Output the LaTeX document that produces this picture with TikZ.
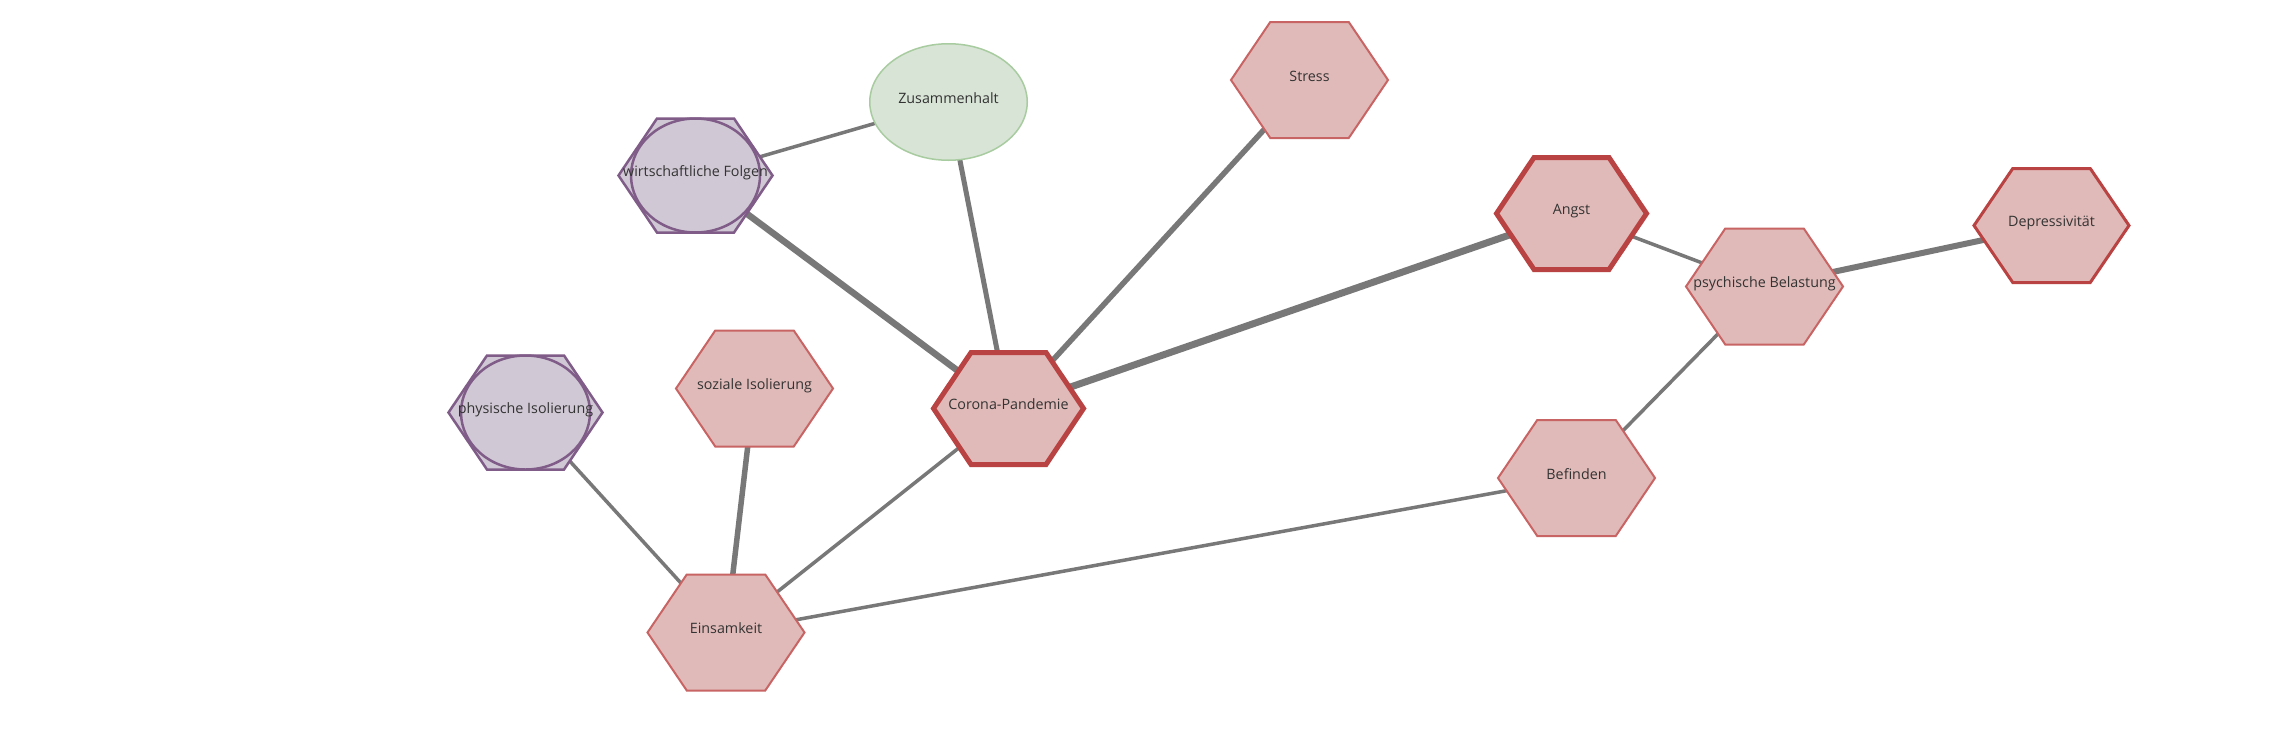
\documentclass[tikz,border=0pt]{standalone}
\usepackage{fontspec}
\setmainfont{Open Sans}
\usetikzlibrary{calc,shapes.geometric}
\pgfdeclarelayer{edgelayer}
\pgfdeclarelayer{shapelayer}
\pgfsetlayers{edgelayer,shapelayer,main}

\definecolor{redfill}{HTML}{E0BAB8}
\definecolor{redthin}{HTML}{C86464}
\definecolor{redthick}{HTML}{B94242}
\definecolor{purplefill}{HTML}{D0C8D4}
\definecolor{purpleline}{HTML}{805C88}
\definecolor{greenfill}{HTML}{D8E4D6}
\definecolor{greenline}{HTML}{A8CCA0}
\definecolor{edgegray}{HTML}{787878}
\definecolor{textgray}{HTML}{333333}

\tikzset{
  lbl/.style={rectangle, inner sep=0pt, outer sep=0pt, text=textgray,
    font=\fontsize{14.3pt}{17pt}\selectfont, text height=10pt, text depth=8pt},
  hexthin/.style={lbl, minimum width=157pt, minimum height=116pt},
  hexmed/.style={lbl, minimum width=155pt, minimum height=114pt},
  hexthick/.style={lbl, minimum width=150pt, minimum height=112pt},
  hexpurple/.style={lbl, minimum width=154pt, minimum height=114pt},
  ellgreen/.style={lbl, ellipse, minimum width=157.5pt, minimum height=116.5pt,
    fill=greenfill, draw=greenline, line width=1.5pt},
  redthinline/.style={fill=redfill, draw=redthin, line width=2pt, line join=miter},
  redmedline/.style={fill=redfill, draw=redthick, line width=3pt, line join=miter},
  redthickline/.style={fill=redfill, draw=redthick, line width=5pt, line join=miter},
  purpleshape/.style={fill=purplefill, draw=purpleline, line width=2.5pt, line join=miter},
  link/.style={draw=edgegray},
}

\newcommand{\hexshape}[2]{%
  \begin{pgfonlayer}{shapelayer}
    \path[#2] (#1.west)
      -- ($(#1.north west)!0.25!(#1.north east)$)
      -- ($(#1.north west)!0.75!(#1.north east)$)
      -- (#1.east)
      -- ($(#1.south west)!0.75!(#1.south east)$)
      -- ($(#1.south west)!0.25!(#1.south east)$)
      -- cycle;
  \end{pgfonlayer}}

\begin{document}
\begin{tikzpicture}[x=1pt,y=-1pt]
\begin{pgfonlayer}{edgelayer}
  \fill[white] (0,0) rectangle (2275,750);
\end{pgfonlayer}
\useasboundingbox (0,0) rectangle (2275,750);

% nodes
\node[hexthin]   (S)  at (1309.5,80)   {Stress};
\node[ellgreen]  (Z)  at (948.5,102)   {Zusammenhalt};
\node[hexpurple] (WF) at (695.5,175.5) {wirtschaftliche Folgen};
\node[hexthick]  (A)  at (1571.5,213.5) {Angst};
\node[hexthin]   (PB) at (1764.5,286.5) {psychische Belastung};
\node[hexmed]    (D)  at (2051.5,225.5) {Depressivität};
\node[hexpurple] (PI) at (525.5,412.5) {physische Isolierung};
\node[hexthin]   (SI) at (754.5,388.5) {soziale Isolierung};
\node[hexthick]  (C)  at (1008.5,408.5) {Corona-Pandemie};
\node[hexthin]   (B)  at (1576.5,478)  {Befinden};
\node[hexthin]   (E)  at (726,632.5)   {Einsamkeit};

% shapes
\hexshape{S}{redthinline}
\hexshape{PB}{redthinline}
\hexshape{SI}{redthinline}
\hexshape{B}{redthinline}
\hexshape{E}{redthinline}
\hexshape{D}{redmedline}
\hexshape{A}{redthickline}
\hexshape{C}{redthickline}
\hexshape{WF}{purpleshape}
\hexshape{PI}{purpleshape}
\begin{pgfonlayer}{shapelayer}
  \path[purpleshape] (WF.center) ellipse [x radius=64.5, y radius=57];
  \path[purpleshape] (PI.center) ellipse [x radius=64.5, y radius=57];
\end{pgfonlayer}

% connectors
\begin{pgfonlayer}{edgelayer}
  \path[link, line width=3.5pt] (WF.center) -- (Z.center);
  \path[link, line width=6.5pt] (WF.center) -- (C.center);
  \path[link, line width=5pt]   (Z.center) -- (C.center);
  \path[link, line width=5.5pt] (S.center) -- (C.center);
  \path[link, line width=7pt]   (C.center) -- (A.center);
  \path[link, line width=3.5pt] (A.center) -- (PB.center);
  \path[link, line width=6pt]   (PB.center) -- (D.center);
  \path[link, line width=3.5pt] (PB.center) -- (B.center);
  \path[link, line width=3.5pt] (B.center) -- (E.center);
  \path[link, line width=3.5pt] (C.center) -- (E.center);
  \path[link, line width=5.5pt] (SI.center) -- (E.center);
  \path[link, line width=3.5pt] (PI.center) -- (E.center);
\end{pgfonlayer}
\end{tikzpicture}
\end{document}
